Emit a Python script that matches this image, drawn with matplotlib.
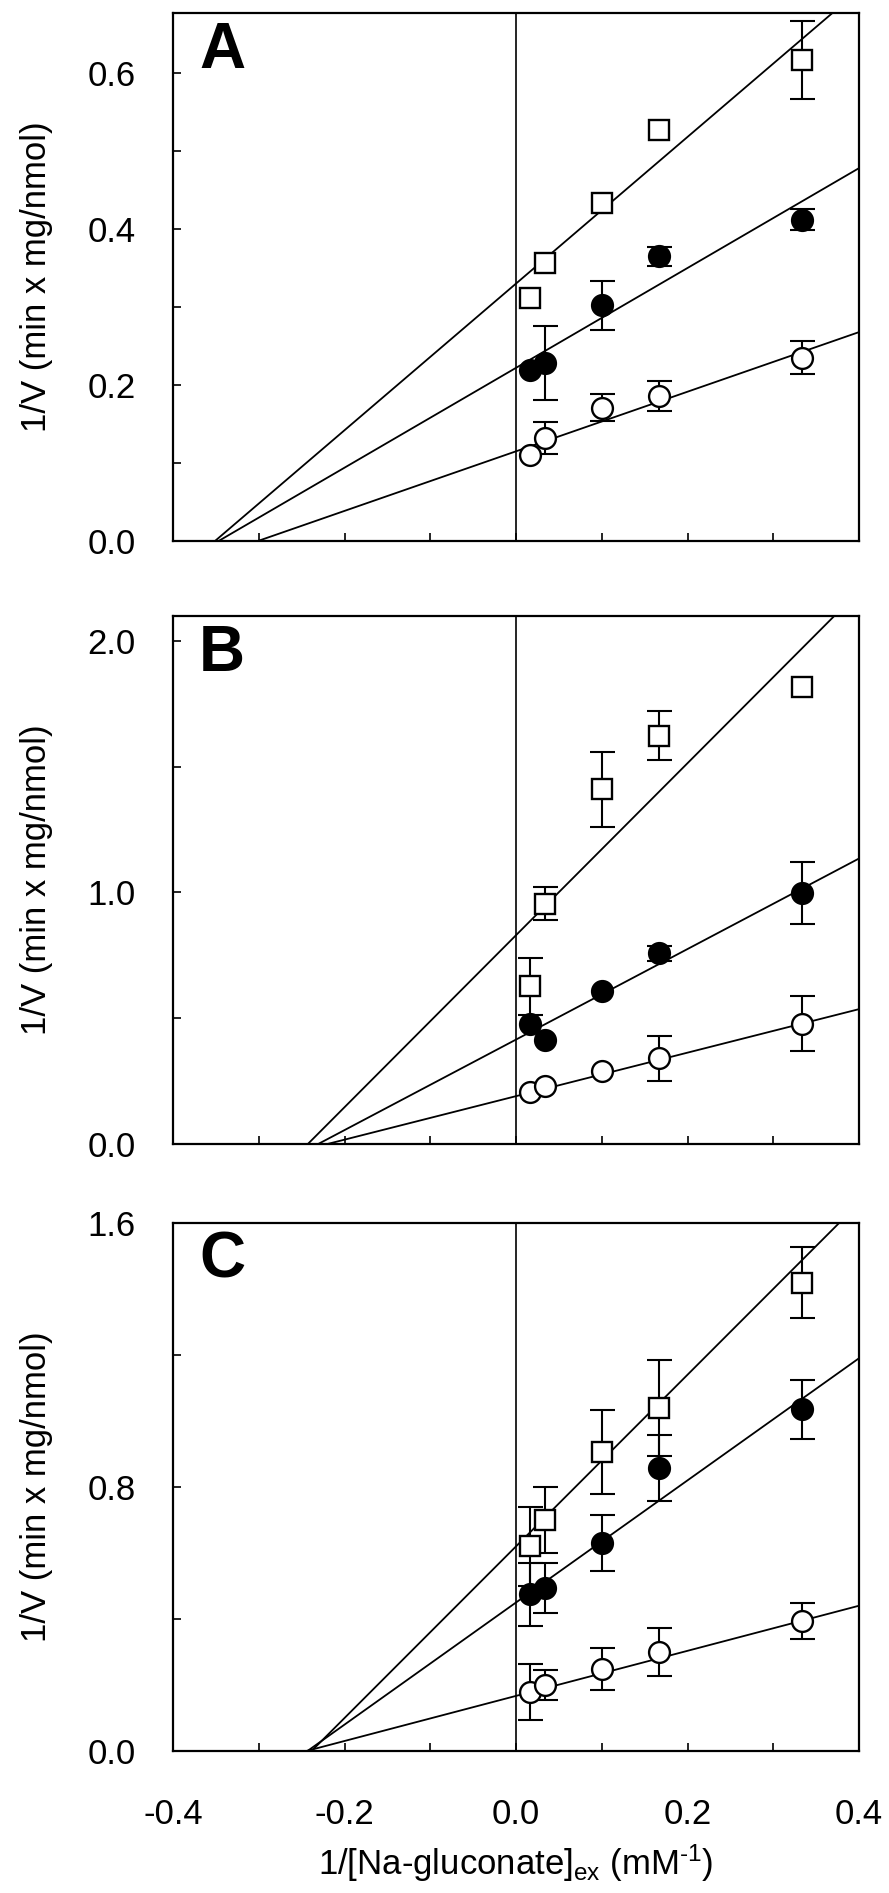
import matplotlib.pyplot as plt
import numpy as np

plt.rcParams['font.family'] = ['Liberation Sans', 'DejaVu Sans']
plt.rcParams['mathtext.default'] = 'regular'
plt.rcParams['axes.unicode_minus'] = False

# 1/[Na-gluconate] (mM-1) for 60, 30, 10, 6, 3 mM
inv_conc = np.array([0.0167, 0.0333, 0.1, 0.1667, 0.3333])

# Panel A
a_sq = [0.312, 0.356, 0.433, 0.527, 0.616]
a_sq_err = [0.0, 0.0, 0.0, 0.0, 0.05]
a_fill = [0.219, 0.228, 0.302, 0.365, 0.412]
a_fill_err = [0.0, 0.047, 0.031, 0.012, 0.013]
a_open = [0.110, 0.132, 0.171, 0.186, 0.235]
a_open_err = [0.0, 0.021, 0.017, 0.019, 0.021]

# Panel B
b_sq = [0.627, 0.956, 1.41, 1.624, 1.817]
b_sq_err = [0.114, 0.064, 0.148, 0.097, 0.0]
b_fill = [0.478, 0.415, 0.607, 0.758, 0.998]
b_fill_err = [0.0, 0.0, 0.0, 0.03, 0.125]
b_open = [0.206, 0.231, 0.292, 0.341, 0.478]
b_open_err = [0.0, 0.0, 0.0, 0.09, 0.11]

# Panel C
c_sq = [0.62, 0.70, 0.906, 1.04, 1.419]
c_sq_err = [0.12, 0.10, 0.127, 0.145, 0.107]
c_fill = [0.475, 0.494, 0.63, 0.857, 1.035]
c_fill_err = [0.095, 0.077, 0.085, 0.10, 0.09]
c_open = [0.18, 0.199, 0.249, 0.30, 0.394]
c_open_err = [0.085, 0.045, 0.064, 0.074, 0.054]

# fitted lines (intercept, slope) for square / filled / open series
a_fits = [(0.33, 0.94), (0.222, 0.64), (0.115, 0.382)]
b_fits = [(0.83, 3.42), (0.415, 1.80), (0.19, 0.865)]
c_fits = [(0.62, 2.60), (0.45, 1.85), (0.167, 0.683)]

panels = [
    ('A', [a_sq, a_fill, a_open], [a_sq_err, a_fill_err, a_open_err], a_fits,
     0.677, [0, 0.2, 0.4, 0.6], [0.1, 0.3, 0.5]),
    ('B', [b_sq, b_fill, b_open], [b_sq_err, b_fill_err, b_open_err], b_fits,
     2.1, [0, 1.0, 2.0], [0.5, 1.5]),
    ('C', [c_sq, c_fill, c_open], [c_sq_err, c_fill_err, c_open_err], c_fits,
     1.6, [0, 0.8, 1.6], [0.4, 1.2]),
]

styles = [dict(marker='s', mfc='white'), dict(marker='o', mfc='black'), dict(marker='o', mfc='white')]

fig = plt.figure(figsize=(8.89, 18.93), dpi=100)
bottoms = [0.7142, 0.3957, 0.0750]
left, width, height = 0.1946, 0.7717, 0.2790

for (letter, ys, errs, fits, ymax, yt, ymt), bot in zip(panels, bottoms):
    ax = fig.add_axes([left, bot, width, height])
    ax.axvline(0, color='k', lw=1.2, zorder=1)
    for (b, m) in fits:
        xs = np.array([-b / m, 0.4])
        ax.plot(xs, b + m * xs, color='k', lw=1.3, zorder=2)
    for y, e, st in zip(ys, errs, styles):
        y = np.array(y)
        e = np.array(e)
        has = e > 0
        ax.errorbar(inv_conc[has], y[has], yerr=e[has], fmt='none', ecolor='k',
                    elinewidth=1.5, capsize=9, capthick=1.5, zorder=3)
        ax.plot(inv_conc, y, ls='none', marker=st['marker'], mfc=st['mfc'], mec='k',
                mew=1.7, ms=15, zorder=4)
    ax.set_xlim(-0.4, 0.4)
    ax.set_ylim(0, ymax)
    ax.set_xticks([-0.4, -0.2, 0.0, 0.2, 0.4])
    ax.set_xticklabels(['-0.4', '-0.2', '0.0', '0.2', '0.4'])
    ax.set_xticks([-0.3, -0.1, 0.1, 0.3], minor=True)
    ax.set_yticks(yt)
    ax.set_yticklabels(['%.1f' % v for v in yt])
    ax.set_yticks(ymt, minor=True)
    ax.tick_params(which='both', direction='in', length=6, width=1.2,
                   top=False, right=False, labelsize=25)
    ax.tick_params(axis='y', pad=27)
    ax.tick_params(axis='x', pad=34)
    if letter != 'C':
        ax.tick_params(axis='x', labelbottom=False)
    for sp in ax.spines.values():
        sp.set_linewidth(1.6)
    ax.text(0.038, 0.985, letter, transform=ax.transAxes, fontsize=46,
            fontweight='bold', va='top', ha='left')
    fig.text(37 / 889, bot + height / 2, '1/V (min x mg/nmol)', rotation=90,
             ha='center', va='center', fontsize=25)

fig.text(0.58, 1 - 1863 / 1893, '1/[Na-gluconate]$_{ex}$ (mM$^{\u2010 1}$)',
         ha='center', va='center', fontsize=25)

fig.savefig('out.png', dpi=100)
